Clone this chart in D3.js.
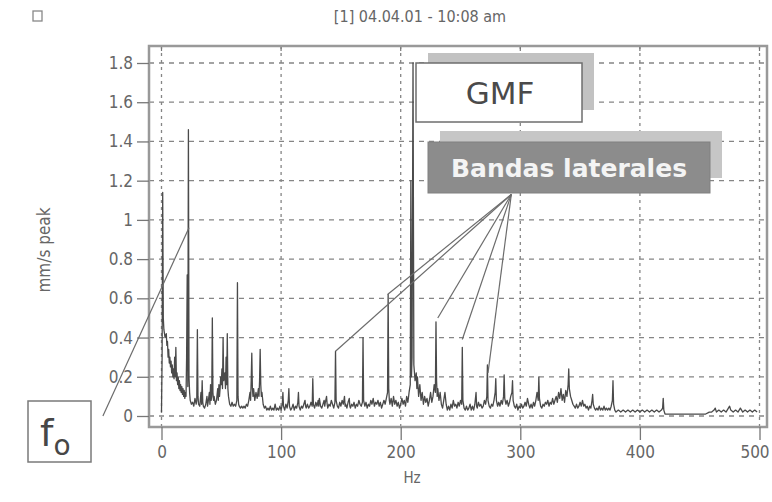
<!DOCTYPE html>
<html>
<head>
<meta charset="utf-8">
<script src="https://cdn.jsdelivr.net/npm/d3@7"></script>
<style>
  body { margin: 0; background: #fff; }
  svg text { font-family: "Liberation Sans Narrow", "DejaVu Sans Condensed", "Liberation Sans", sans-serif; }
</style>
</head>
<body>
<div id="chart"></div>
<script>
// spectrum: frequency (Hz) and amplitude (mm/s peak)
const freqHz = [
  0,0.5,1,1.5,2,3,4,4.5,5,5.5,6,6.5,7,7.5,8,8.5,9,9.5,10,10.5,11,11.5,12,12.5,13,13.5,14,14.5,15,15.5,16,16.5,17,17.5,18,18.5,19,19.5,20,20.5,
  21,21.5,22,22.5,23,23.5,24,25,26,27,28,29,29.5,30,30.5,31,32,33,33.5,34,34.5,35,36,37,38,38.5,39,40,40.5,41,41.5,42,42.5,43,43.5,44,45,46,47,47.5,
  48,48.5,49,49.5,50,50.5,51,51.5,52,53,53.5,54,54.5,55,55.5,56,57,58,59,60,61,62,63,63.5,64,64.5,65,66,67,68,69,70,71,72,73,74,74.5,75,75.5,76,76.5,
  77,78,79,80,81,81.5,82,82.5,83,83.5,84,85,86,87,88,89,90,91,92,93,94,95,96,97,98,99,100,101,101.5,102,103,104,105,106,106.5,107,108,109,110,
  111,112,113,114,114.5,115,116,117,118,119,120,120.5,121,122,123,124,125,126,126.5,127,128,129,130,131,131.5,132,133,134,135,136,136.5,137,138,138.5,139,140,
  141,142,143,144,145,145.5,146,147,148,149,150,151,152,153,153.5,154,155,156,157,157.5,158,159,160,161,162,163,164,165,166,167,168,168.5,169,170,
  171,172,173,174,175,176,177,178,179,180,181,182,183,184,185,186,187,188,189,189.5,190,190.5,191,192,193,194,195,196,197,198,199,200,
  201,202,203,204,205,206,207,208,208.5,209,209.5,210.3,211,212,213,213.5,214,215,216,217,218,219,220,221,222,223,224,225,226,227,228,229,229.5,230,230.5,
  231,232,233,234,235,236,237,238,239,240,241,242,243,244,245,246,247,248,249,250,251,251.5,252,253,254,255,256,257,258,259,260,
  261,262,263,263.5,264,265,266,267,268,269,270,271,272,272.5,273,274,275,276,277,278,279,279.5,280,281,282,283,284,285,286,286.5,287,288,289,290,
  291,292,293,293.5,294,295,296,297,298,299,300,301,302,303,304,305,306,307,308,309,310,311,312,313,314,315,315.5,316,317,318,319,320,
  321,322,323,324,325,326,327,328,329,330,331,332,333,334,335,336,337,338,339,340,340.5,341,342,343,344,345,346,347,348,349,350,
  351,352,353,354,355,356,357,358,359,360,360.5,361,362,363,364,365,366,367,368,369,370,371,372,373,374,375,376,377,377.5,378,379,380,
  382,384,386,388,390,392,394,396,398,400,402,404,406,408,410,412,414,416,418,419,419.5,420,421,425,430,435,440,445,450,455,458,460,
  462,463,464,466,468,470,472,474,475,476,478,480,482,484,485,486,488,490,492,494,496,498
];
const amplitude = [
  0.02,0.30,1.14,0.50,0.44,0.40,0.42,0.36,0.38,0.30,0.34,0.27,0.30,0.25,0.28,0.22,0.26,0.20,0.24,0.19,0.30,0.20,0.35,0.18,0.22,0.16,0.20,0.14,0.18,0.13,0.16,0.12,0.15,0.11,0.14,0.10,0.13,0.09,0.12,0.10,
  0.30,0.72,0.15,1.46,0.20,0.12,0.08,0.06,0.07,0.05,0.09,0.06,0.08,0.44,0.10,0.06,0.05,0.12,0.06,0.18,0.07,0.05,0.04,0.06,0.10,0.05,0.07,0.12,0.06,0.16,0.08,0.10,0.50,0.12,0.08,0.10,0.06,0.08,0.14,0.08,
  0.16,0.10,0.14,0.20,0.16,0.24,0.14,0.40,0.18,0.22,0.14,0.30,0.16,0.42,0.14,0.10,0.06,0.05,0.07,0.05,0.06,0.05,0.08,0.68,0.10,0.06,0.05,0.04,0.05,0.04,0.05,0.04,0.06,0.05,0.08,0.12,0.08,0.18,0.32,0.14,0.10,
  0.14,0.08,0.12,0.09,0.14,0.10,0.18,0.34,0.16,0.10,0.12,0.06,0.04,0.05,0.03,0.04,0.03,0.05,0.03,0.04,0.03,0.06,0.03,0.04,0.03,0.05,0.03,0.06,0.12,0.05,0.03,0.06,0.04,0.08,0.14,0.05,0.03,0.04,0.06,
  0.03,0.05,0.04,0.07,0.12,0.05,0.03,0.05,0.04,0.06,0.08,0.05,0.04,0.06,0.04,0.05,0.07,0.05,0.19,0.06,0.04,0.07,0.05,0.08,0.05,0.09,0.05,0.04,0.06,0.08,0.05,0.07,0.10,0.06,0.04,0.06,
  0.05,0.08,0.06,0.04,0.07,0.33,0.08,0.05,0.04,0.07,0.05,0.08,0.06,0.10,0.05,0.06,0.04,0.07,0.09,0.05,0.04,0.06,0.05,0.07,0.04,0.06,0.05,0.08,0.06,0.05,0.07,0.40,0.08,0.05,
  0.07,0.04,0.06,0.05,0.08,0.06,0.09,0.05,0.07,0.06,0.08,0.05,0.07,0.04,0.06,0.08,0.06,0.09,0.12,0.62,0.14,0.08,0.06,0.09,0.05,0.10,0.06,0.08,0.05,0.07,0.04,0.06,
  0.09,0.06,0.08,0.05,0.10,0.07,0.12,0.16,1.20,0.20,0.30,1.80,0.26,0.18,0.22,0.14,0.20,0.10,0.16,0.08,0.12,0.06,0.10,0.07,0.09,0.05,0.08,0.12,0.07,0.10,0.16,0.12,0.48,0.18,0.10,
  0.14,0.08,0.12,0.06,0.04,0.08,0.12,0.06,0.03,0.05,0.03,0.06,0.04,0.08,0.05,0.06,0.04,0.07,0.05,0.08,0.06,0.35,0.08,0.04,0.03,0.05,0.03,0.04,0.06,0.03,0.05,
  0.03,0.06,0.12,0.05,0.04,0.07,0.05,0.06,0.04,0.05,0.08,0.06,0.10,0.26,0.08,0.05,0.04,0.06,0.05,0.08,0.12,0.19,0.08,0.05,0.07,0.05,0.08,0.06,0.10,0.21,0.09,0.06,0.08,0.05,
  0.07,0.10,0.12,0.18,0.08,0.05,0.04,0.06,0.03,0.05,0.04,0.06,0.04,0.05,0.07,0.05,0.09,0.06,0.04,0.06,0.04,0.07,0.05,0.08,0.12,0.08,0.20,0.09,0.05,0.04,0.06,0.05,
  0.07,0.06,0.08,0.05,0.07,0.06,0.09,0.06,0.08,0.10,0.07,0.12,0.09,0.14,0.08,0.11,0.07,0.13,0.10,0.16,0.24,0.14,0.10,0.08,0.06,0.05,0.04,0.06,0.04,0.05,0.07,
  0.05,0.08,0.05,0.06,0.04,0.05,0.03,0.05,0.04,0.08,0.11,0.06,0.04,0.03,0.04,0.03,0.05,0.03,0.04,0.03,0.05,0.03,0.04,0.03,0.04,0.03,0.05,0.08,0.18,0.06,0.03,0.02,
  0.03,0.02,0.03,0.02,0.03,0.02,0.03,0.02,0.03,0.02,0.03,0.02,0.03,0.02,0.03,0.02,0.03,0.02,0.03,0.04,0.09,0.03,0.01,0.01,0.01,0.01,0.01,0.01,0.01,0.01,0.02,0.02,
  0.03,0.04,0.02,0.03,0.02,0.03,0.02,0.04,0.05,0.03,0.02,0.03,0.02,0.04,0.03,0.02,0.03,0.02,0.03,0.02,0.03,0.02
];

const xTicks = [0, 100, 200, 300, 400, 500];
const yTicks = [0, 0.2, 0.4, 0.6, 0.8, 1, 1.2, 1.4, 1.6, 1.8];
const yTickLabels = ["0", "0.2", "0.4", "0.6", "0.8", "1", "1.2", "1.4", "1.6", "1.8"];

// annotation anchors (Hz, amplitude)
const f0Peak = [23, 0.96];
const f0Start = [-49, 0];
const sidebandHz = [145.5, 189, 231, 251.5, 273];
const sidebandTop = [0.33, 0.62, 0.5, 0.39, 0.22];
const sidebandHub = [292.5, 1.13];

const width = 772, height = 502;
const frame = { left: 149, right: 767, top: 46, bottom: 427 };

const svg = d3.select("#chart").append("svg")
    .attr("width", width)
    .attr("height", height);

const x = d3.scaleLinear().domain([0, 500]).range([161.5, 759.5]);
const y = d3.scaleLinear().domain([0, 1.8]).range([416, 63]);

const gridColor = "#858585";
const textColor = "#666";

// grid
svg.append("g").selectAll("line")
    .data(yTicks)
    .join("line")
    .attr("x1", frame.left).attr("x2", frame.right)
    .attr("y1", d => y(d)).attr("y2", d => y(d))
    .attr("stroke", gridColor).attr("stroke-width", 1.3)
    .attr("stroke-dasharray", "5,5");

svg.append("g").selectAll("line")
    .data(xTicks)
    .join("line")
    .attr("x1", d => x(d)).attr("x2", d => x(d))
    .attr("y1", frame.top).attr("y2", frame.bottom)
    .attr("stroke", gridColor).attr("stroke-width", 1.3)
    .attr("stroke-dasharray", "3,4");

// small ticks along the top edge
svg.append("g").selectAll("line")
    .data(xTicks)
    .join("line")
    .attr("x1", d => x(d)).attr("x2", d => x(d))
    .attr("y1", frame.top).attr("y2", frame.top + 5)
    .attr("stroke", "#777").attr("stroke-width", 1.2);

// frame
svg.append("rect")
    .attr("x", frame.left).attr("y", frame.top)
    .attr("width", frame.right - frame.left)
    .attr("height", frame.bottom - frame.top)
    .attr("fill", "none")
    .attr("stroke", "#999").attr("stroke-width", 2.5);

// axes
const yAxis = svg.append("g")
    .attr("transform", `translate(${frame.left},0)`)
    .call(d3.axisLeft(y).tickValues(yTicks)
        .tickFormat((d, i) => yTickLabels[i]).tickSize(12).tickPadding(4));
const xAxis = svg.append("g")
    .attr("transform", `translate(0,${frame.bottom})`)
    .call(d3.axisBottom(x).tickValues(xTicks).tickSize(13).tickPadding(6));

[yAxis, xAxis].forEach(a => {
    a.select(".domain").remove();
    a.selectAll(".tick line").attr("stroke", "#777").attr("stroke-width", 1.3);
    a.selectAll(".tick text").attr("fill", textColor).style("font-size", "17px");
});
// keep the last x label inside the window
xAxis.selectAll(".tick text").filter(d => d === 500).attr("dx", -5);

// spectrum line
const points = freqHz.map((f, i) => [f, amplitude[i]]);
svg.append("path")
    .datum(points)
    .attr("fill", "none")
    .attr("stroke", "#4a4a4a")
    .attr("stroke-width", 1.3)
    .attr("stroke-linejoin", "round")
    .attr("d", d3.line().x(d => x(d[0])).y(d => y(d[1])));

// titles
svg.append("text")
    .attr("x", 420).attr("y", 22)
    .attr("text-anchor", "middle")
    .attr("fill", textColor)
    .style("font-size", "16px")
    .text("[1] 04.04.01 - 10:08 am");

svg.append("rect")
    .attr("x", 33).attr("y", 11).attr("width", 9).attr("height", 10)
    .attr("fill", "none").attr("stroke", "#888").attr("stroke-width", 1.3);

svg.append("text")
    .attr("x", 412).attr("y", 483)
    .attr("text-anchor", "middle")
    .attr("fill", textColor)
    .style("font-size", "15px")
    .text("Hz");

svg.append("text")
    .attr("transform", "translate(50,250) rotate(-90)")
    .attr("text-anchor", "middle")
    .attr("fill", textColor)
    .style("font-size", "17px")
    .text("mm/s  peak");

// annotations
const annColor = "#6c6c6c";

// f0
svg.append("line")
    .attr("x1", x(f0Start[0])).attr("y1", y(f0Start[1]))
    .attr("x2", x(f0Peak[0])).attr("y2", y(f0Peak[1]))
    .attr("stroke", annColor).attr("stroke-width", 1.2);

svg.append("rect")
    .attr("x", 28).attr("y", 401).attr("width", 63).attr("height", 61)
    .attr("fill", "#fff").attr("stroke", "#7a7a7a").attr("stroke-width", 1.5);

const f0Label = svg.append("text")
    .attr("x", 40).attr("y", 446)
    .attr("fill", "#474747")
    .style("font-family", "'DejaVu Sans', sans-serif")
    .style("font-size", "38px");
f0Label.append("tspan").text("f");
f0Label.append("tspan").attr("dy", 9).style("font-size", "28px").text("o");

// GMF
svg.append("rect")
    .attr("x", 428).attr("y", 53).attr("width", 166).attr("height", 57)
    .attr("fill", "#c2c2c2");
svg.append("rect")
    .attr("x", 416).attr("y", 63).attr("width", 166).attr("height", 59)
    .attr("fill", "#fff").attr("stroke", "#6e6e6e").attr("stroke-width", 1.5);
svg.append("text")
    .attr("x", 500).attr("y", 104)
    .attr("text-anchor", "middle")
    .attr("fill", "#4a4a4a")
    .style("font-family", "'DejaVu Sans', sans-serif")
    .style("font-size", "31px")
    .text("GMF");

// sidebands
svg.append("g").selectAll("line")
    .data(sidebandHz)
    .join("line")
    .attr("x1", x(sidebandHub[0])).attr("y1", y(sidebandHub[1]))
    .attr("x2", d => x(d)).attr("y2", (d, i) => y(sidebandTop[i]))
    .attr("stroke", annColor).attr("stroke-width", 1.2);

svg.append("rect")
    .attr("x", 440).attr("y", 131).attr("width", 282).attr("height", 47)
    .attr("fill", "#c6c6c6");
svg.append("rect")
    .attr("x", 428).attr("y", 142).attr("width", 282).attr("height", 51)
    .attr("fill", "#8c8c8c").attr("stroke", "#808080").attr("stroke-width", 1);
svg.append("text")
    .attr("x", 569).attr("y", 177)
    .attr("text-anchor", "middle")
    .attr("fill", "#f4f4f4")
    .style("font-family", "'DejaVu Sans', sans-serif")
    .style("font-weight", "bold")
    .style("font-size", "25px")
    .text("Bandas laterales");
</script>
</body>
</html>
